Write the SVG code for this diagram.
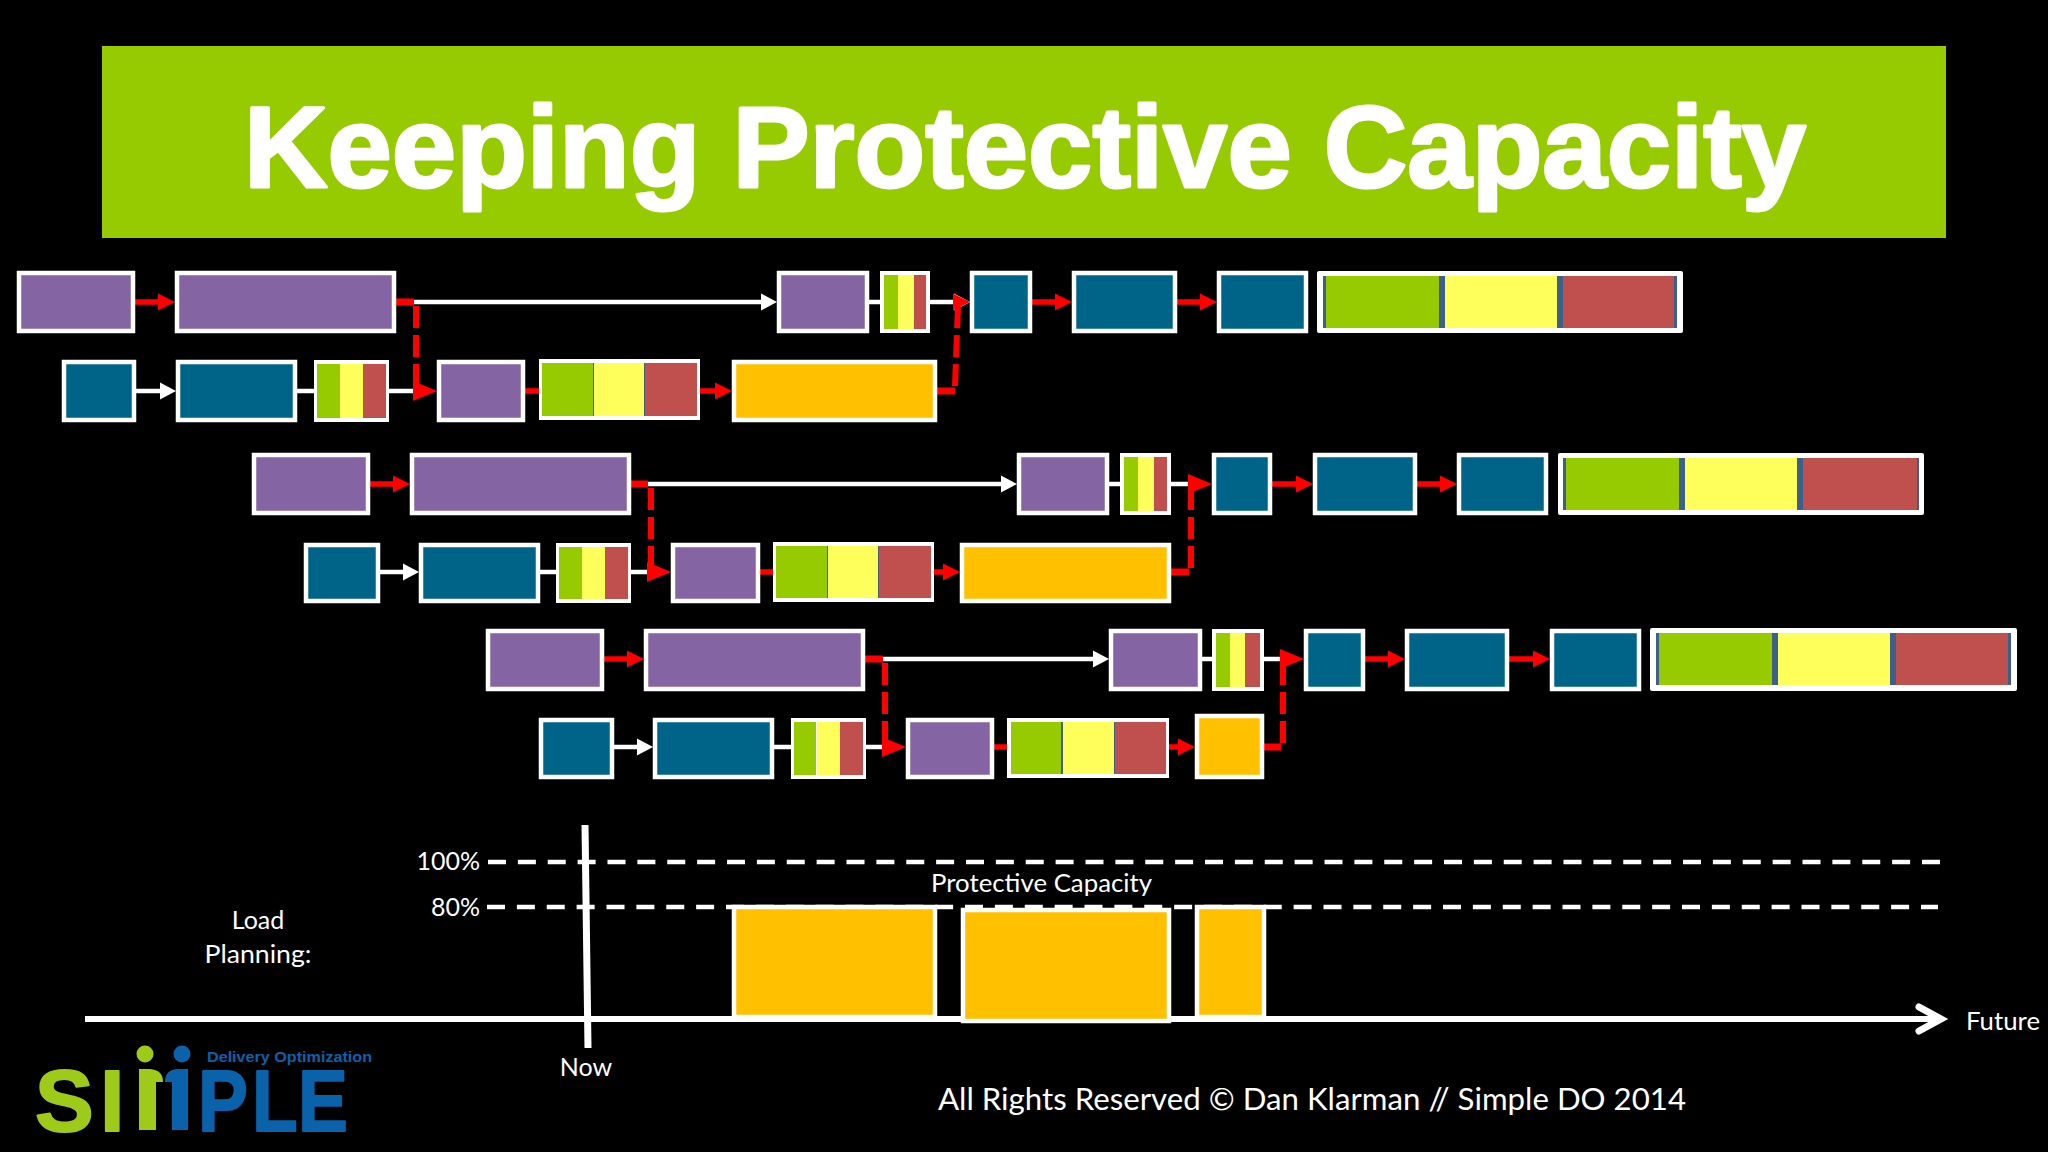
<svg xmlns="http://www.w3.org/2000/svg" width="2048" height="1152" viewBox="0 0 2048 1152">
<style>
.box{stroke:#fff;stroke-width:4.5}
.p{fill:#8464a2}.b{fill:#006489}.a{fill:#ffc000}
.g{fill:#95cb00}.y{fill:#ffff5c}.r{fill:#bf504d}.n{fill:#3d5f8c}
.w{fill:none;stroke:#fff;stroke-width:4.5}
.rl{fill:none;stroke:#f00;stroke-width:5.5}
.rs{fill:none;stroke:#f00;stroke-width:7}
.rd{fill:none;stroke:#f00;stroke-width:6;stroke-dasharray:22 7}
.t{font-family:"Lato","Open Sans",sans-serif;fill:#fff;font-size:25px}
.lg{font-family:"Liberation Sans",sans-serif;font-weight:700;font-size:88px;stroke-width:2;stroke-linejoin:round}
</style>
<defs>
<path id="hr" d="M-17-8.5L0 0L-17 8.5Z" fill="#f00"/>
<path id="hw" d="M-16-8.5L0 0L-16 8.5Z" fill="#fff"/>
<path id="hR" d="M-24-10L0 0L-24 10Z" fill="#f00"/>
</defs>
<rect width="2048" height="1152" fill="#000"/>
<g id="banner"><rect x="102" y="46" width="1844" height="192" fill="#95cb00"/>
<text x="244" y="187" font-family="'Liberation Sans',sans-serif" font-weight="700" font-size="115" fill="#fff" stroke="#fff" stroke-width="3" stroke-linejoin="round" textLength="1562" lengthAdjust="spacingAndGlyphs">Keeping Protective Capacity</text></g>

<g id="connectors">
<!-- group 1 -->
<path class="w" d="M396 302H770M869 302H880M930 302H960"/><path class="w" d="M136 391H165M297 391H314M389 391H420"/>
<use href="#hw" x="777" y="302"/><use href="#hw" x="970" y="302"/><use href="#hw" x="176" y="391"/>
<path class="rl" d="M135 302H162M525 391H539M700 391H720M1032 302H1058M1177 302H1203"/>
<path class="rs" d="M396 302H414M937 391H955"/>
<use href="#hr" x="175" y="302"/><use href="#hr" x="732" y="391"/><use href="#hr" x="1072" y="302"/><use href="#hr" x="1217" y="302"/>
<path class="rd" d="M416 306V390"/><path class="rd" d="M955 386L958 306"/>
<use href="#hR" x="437" y="391"/><use href="#hr" x="970" y="302"/>
<!-- group 2 -->
<path class="w" d="M630 484H1010M1109 484H1120M1170 484H1200"/><path class="w" d="M379 572H408M539 572H556M631 572H655"/>
<use href="#hw" x="1017" y="484"/><use href="#hw" x="419" y="572"/>
<path class="rl" d="M370 484H397M759 572H773M934 572H950M1272 484H1300M1417 484H1443"/>
<path class="rs" d="M630 484H648M1171 572H1189"/>
<use href="#hr" x="410" y="484"/><use href="#hr" x="960" y="572"/><use href="#hr" x="1313" y="484"/><use href="#hr" x="1457" y="484"/>
<path class="rd" d="M651 488V571"/><path class="rd" d="M1191 568V490"/>
<use href="#hR" x="671" y="572"/><use href="#hR" x="1212" y="484"/>
<!-- group 3 -->
<path class="w" d="M865 659H1100M1202 659H1212M1264 659H1290"/><path class="w" d="M614 747H642M774 747H791M866 747H890"/>
<use href="#hw" x="1109" y="659"/><use href="#hw" x="653" y="747"/>
<path class="rl" d="M604 659H632M994 747H1007M1169 747H1182M1365 659H1392M1509 659H1535"/>
<path class="rs" d="M865 659H883M1264 747H1281"/>
<use href="#hr" x="644" y="659"/><use href="#hr" x="1195" y="747"/><use href="#hr" x="1405" y="659"/><use href="#hr" x="1550" y="659"/>
<path class="rd" d="M885 663V746"/><path class="rd" d="M1283 743V665"/>
<use href="#hR" x="906" y="747"/><use href="#hR" x="1304" y="659"/>
</g>

<g id="g1-row1">
<rect id="n1a" class="box p" x="19" y="273" width="114" height="58"/>
<rect id="n1b" class="box p" x="177" y="273" width="217" height="58"/>
<rect id="n1c" class="box p" x="779" y="273" width="88" height="58"/>
<g id="n1d"><rect x="880" y="271" width="50" height="62" fill="#fff"/><rect class="g" x="884" y="275" width="14" height="54"/><rect class="y" x="898" y="275" width="16" height="54"/><rect class="r" x="914" y="275" width="12" height="54"/></g>
<rect id="n1k" class="box b" x="972" y="273" width="58" height="58"/>
<rect id="n1l" class="box b" x="1074" y="273" width="101" height="58"/>
<rect id="n1m" class="box b" x="1219" y="273" width="87" height="58"/>
<g id="n1n"><rect x="1317" y="271" width="366" height="62" fill="#fff" rx="2"/><rect class="n" x="1323" y="276" width="354" height="52"/><rect class="g" x="1326" y="276" width="113" height="52"/><rect class="y" x="1445" y="276" width="112" height="52"/><rect class="r" x="1563" y="276" width="111" height="52"/></g>
</g>
<g id="g1-row2">
<rect id="n1e" class="box b" x="64" y="362" width="70" height="58"/>
<rect id="n1f" class="box b" x="178" y="362" width="117" height="58"/>
<g id="n1g"><rect x="314" y="360" width="75" height="62" fill="#fff"/><rect class="g" x="317" y="364" width="23" height="54"/><rect class="y" x="340" y="364" width="23" height="54"/><rect class="r" x="363" y="364" width="23" height="54"/></g>
<rect id="n1h" class="box p" x="439" y="362" width="84" height="58"/>
<g id="n1i"><rect x="539" y="359" width="161" height="61" fill="#fff"/><rect class="n" x="542" y="363" width="155" height="53"/><rect class="g" x="542" y="363" width="51" height="53"/><rect class="y" x="594" y="363" width="50" height="53"/><rect class="r" x="645" y="363" width="52" height="53"/></g>
<rect id="n1j" class="box a" x="734" y="362" width="201" height="58"/>
</g>

<g id="g2-row1">
<rect id="n2a" class="box p" x="254" y="455" width="114" height="58"/>
<rect id="n2b" class="box p" x="412" y="455" width="217" height="58"/>
<rect id="n2c" class="box p" x="1019" y="455" width="88" height="58"/>
<g id="n2d"><rect x="1120" y="453" width="51" height="62" fill="#fff"/><rect class="g" x="1124" y="457" width="14" height="54"/><rect class="y" x="1138" y="457" width="16" height="54"/><rect class="r" x="1154" y="457" width="13" height="54"/></g>
<rect id="n2k" class="box b" x="1214" y="455" width="56" height="58"/>
<rect id="n2l" class="box b" x="1315" y="455" width="100" height="58"/>
<rect id="n2m" class="box b" x="1459" y="455" width="87" height="58"/>
<g id="n2n"><rect x="1558" y="453" width="366" height="62" fill="#fff" rx="2"/><rect class="n" x="1563" y="458" width="356" height="52"/><rect class="g" x="1566" y="458" width="113" height="52"/><rect class="y" x="1685" y="458" width="112" height="52"/><rect class="r" x="1803" y="458" width="114" height="52"/></g>
</g>
<g id="g2-row2">
<rect id="n2e" class="box b" x="306" y="545" width="72" height="56"/>
<rect id="n2f" class="box b" x="421" y="545" width="117" height="56"/>
<g id="n2g"><rect x="556" y="543" width="75" height="60" fill="#fff"/><rect class="g" x="559" y="547" width="23" height="52"/><rect class="y" x="582" y="547" width="23" height="52"/><rect class="r" x="605" y="547" width="23" height="52"/></g>
<rect id="n2h" class="box p" x="673" y="545" width="85" height="56"/>
<g id="n2i"><rect x="773" y="542" width="161" height="60" fill="#fff"/><rect class="n" x="776" y="546" width="155" height="52"/><rect class="g" x="776" y="546" width="51" height="52"/><rect class="y" x="828" y="546" width="50" height="52"/><rect class="r" x="879" y="546" width="52" height="52"/></g>
<rect id="n2j" class="box a" x="962" y="545" width="207" height="56"/>
</g>

<g id="g3-row1">
<rect id="n3a" class="box p" x="488" y="631" width="114" height="58"/>
<rect id="n3b" class="box p" x="646" y="631" width="217" height="58"/>
<rect id="n3c" class="box p" x="1111" y="631" width="89" height="58"/>
<g id="n3d"><rect x="1212" y="629" width="52" height="62" fill="#fff"/><rect class="g" x="1216" y="633" width="14" height="54"/><rect class="y" x="1230" y="633" width="15" height="54"/><rect class="r" x="1245" y="633" width="15" height="54"/></g>
<rect id="n3k" class="box b" x="1306" y="631" width="57" height="58"/>
<rect id="n3l" class="box b" x="1407" y="631" width="100" height="58"/>
<rect id="n3m" class="box b" x="1552" y="631" width="87" height="58"/>
<g id="n3n"><rect x="1650" y="628" width="367" height="63" fill="#fff" rx="2"/><rect class="n" x="1656" y="633" width="355" height="52"/><rect class="g" x="1659" y="633" width="113" height="52"/><rect class="y" x="1778" y="633" width="112" height="52"/><rect class="r" x="1896" y="633" width="112" height="52"/></g>
</g>
<g id="g3-row2">
<rect id="n3e" class="box b" x="541" y="720" width="71" height="57"/>
<rect id="n3f" class="box b" x="655" y="720" width="117" height="57"/>
<g id="n3g"><rect x="791" y="718" width="75" height="61" fill="#fff"/><rect class="g" x="794" y="722" width="22" height="53"/><rect class="y" x="817" y="722" width="23" height="53"/><rect class="r" x="840" y="722" width="23" height="53"/></g>
<rect id="n3h" class="box p" x="908" y="720" width="84" height="57"/>
<g id="n3i"><rect x="1007" y="718" width="162" height="60" fill="#fff"/><rect class="n" x="1011" y="722" width="155" height="52"/><rect class="g" x="1011" y="722" width="50" height="52"/><rect class="y" x="1063" y="722" width="51" height="52"/><rect class="r" x="1115" y="722" width="51" height="52"/></g>
<rect id="n3j" class="box a" x="1197" y="716" width="65" height="61"/>
</g>

<g id="load">
<path d="M488 862H1940M487 907H1938" fill="none" stroke="#fff" stroke-width="4.5" stroke-dasharray="18 11.875"/>
<path d="M85 1019H1940" fill="none" stroke="#fff" stroke-width="6"/>
<path d="M1919 1007L1941 1019L1919 1031" fill="none" stroke="#fff" stroke-width="7" stroke-linecap="round"/>
<rect class="box a" x="734" y="907" width="201" height="110"/>
<rect class="box a" x="963" y="910" width="206" height="111"/>
<rect class="box a" x="1197" y="907" width="67" height="110"/>
<path d="M585 825L588 1048" stroke="#fff" stroke-width="7" fill="none"/>
<text class="t" x="480" y="870" text-anchor="end">100%</text>
<text class="t" x="480" y="916" text-anchor="end">80%</text>
<text class="t" x="931" y="892" textLength="221" lengthAdjust="spacingAndGlyphs">Protective Capacity</text>
<text class="t" x="258" y="929" text-anchor="middle">Load</text>
<text class="t" x="258" y="963" text-anchor="middle" textLength="107" lengthAdjust="spacingAndGlyphs">Planning:</text>
<text class="t" x="586" y="1076" text-anchor="middle">Now</text>
<text class="t" x="1966" y="1030" textLength="74" lengthAdjust="spacingAndGlyphs">Future</text>
<text class="t" x="938" y="1110" style="font-size:30px" textLength="748" lengthAdjust="spacingAndGlyphs">All Rights Reserved © Dan Klarman // Simple DO 2014</text>
</g>

<g id="logo">
<text class="lg" x="35 100" y="1131" fill="#9ecb1a" stroke="#9ecb1a">SI</text>
<circle cx="145" cy="1054" r="8.5" fill="#9ecb1a"/>
<path d="M139 1069H150Q163 1070 163 1082H156V1130H139Z" fill="#9ecb1a"/>
<circle cx="182" cy="1054" r="8.5" fill="#0a62ab"/>
<path d="M188 1069V1130H172V1082H165Q165 1070 177 1069Z" fill="#0a62ab"/>
<text class="lg" transform="translate(198 1131) scale(.85 1)" x="0 63.5 117.6" y="0" fill="#0a62ab" stroke="#0a62ab">PLE</text>
<text x="207" y="1062" font-family="'Liberation Sans',sans-serif" font-weight="700" font-size="15" fill="#0a62ab" textLength="165" lengthAdjust="spacingAndGlyphs">Delivery Optimization</text>
</g>
</svg>
